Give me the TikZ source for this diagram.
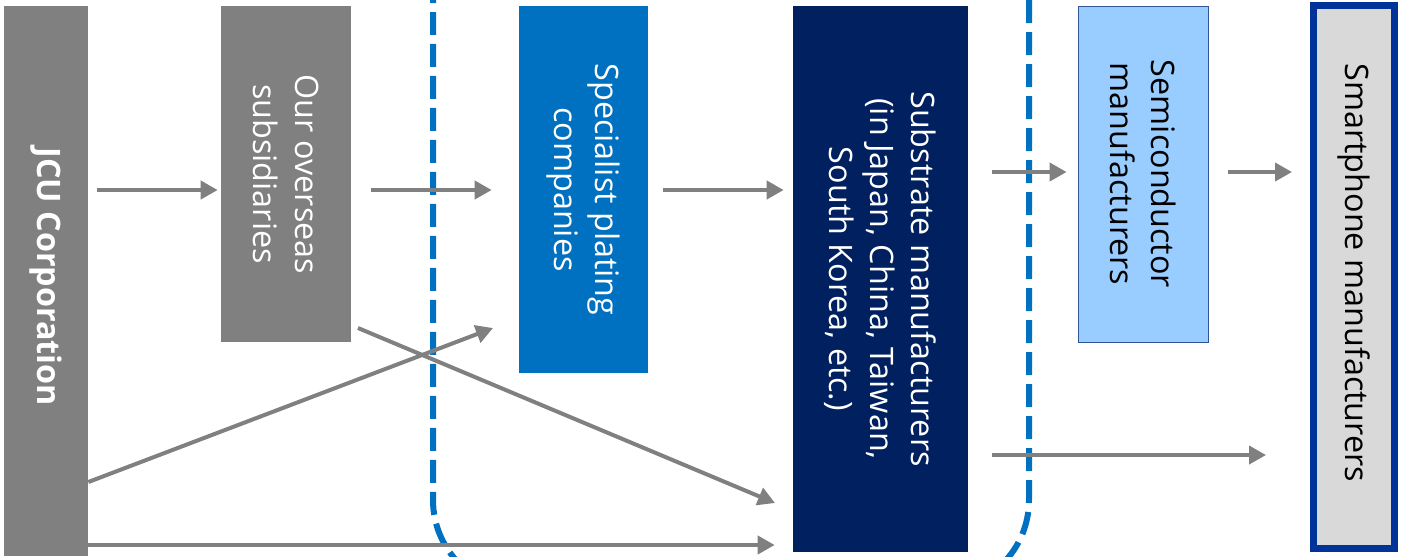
\documentclass[tikz,border=0pt]{standalone}
\usepackage{fontspec}
\setmainfont{Open Sans}
\usepackage{tikz}
\usetikzlibrary{arrows.meta, positioning}

\definecolor{jcugray}{HTML}{808080}
\definecolor{platblue}{HTML}{0070C0}
\definecolor{subnavy}{HTML}{002060}
\definecolor{semiblue}{HTML}{99CCFF}
\definecolor{semiline}{HTML}{2F5597}
\definecolor{smartfill}{HTML}{D9D9D9}
\definecolor{smartline}{HTML}{003399}

\begin{document}
\begin{tikzpicture}[x=0.02cm, y=-0.02cm,
            box/.style={rectangle, rotate=-90, align=center, inner sep=0pt, font=\fontsize{18.4}{23.5}\selectfont},
            flow/.style={draw=jcugray, line width=0.08cm, -{Triangle[length=0.34cm, width=0.36cm]}},
            border/.style={draw=platblue, line width=0.12cm, dash pattern=on 0.46cm off 0.18cm}]

            \useasboundingbox (0,0) rectangle (1402,556);

            % boxes are turned, so minimum width runs down the page
            \node[box, fill=jcugray, text=white, minimum width=11cm, minimum height=1.68cm] (jcu) at (46,281) {
                \textbf{JCU Corporation}
            };
            \node[box, fill=jcugray, text=white, minimum width=6.72cm, minimum height=2.6cm] (subs) at (286,174) {
                Our overseas\\
                subsidiaries
            };
            \node[box, fill=platblue, text=white, minimum width=7.34cm, minimum height=2.58cm] (plating) at (583.5,189.5) {
                Specialist plating\\
                companies
            };
            \node[box, fill=subnavy, text=white, minimum width=10.92cm, minimum height=3.5cm] (substrate) at (880.5,279) {
                Substrate manufacturers\\
                (in Japan, China, Taiwan,\\
                South Korea, etc.)
            };
            \node[box, fill=semiblue, draw=semiline, line width=0.5pt, minimum width=6.72cm, minimum height=2.6cm] (semi) at (1143,174) {
                Semiconductor\\
                manufacturers
            };
            \node[box, fill=smartfill, draw=smartline, line width=0.14cm, minimum width=10.86cm, minimum height=1.62cm] (smart) at (1354,277) {
                Smartphone manufacturers
            };

            % dashed bounds
            \draw[border, rounded corners=1.8cm] (433,-20) -- (433,590) -- (1029,590) -- (1029,-20);

            \coordinate (platin) at (493,328);
            \coordinate (subsout) at (358,328);
            \coordinate (subin) at (775,503);

            \draw[flow, shorten <=0.18cm, shorten >=0.06cm] (jcu.north |- 0,190) -- (subs.south |- 0,190);
            \draw[flow, shorten <=0.4cm, shorten >=0.54cm] (subs.north |- 0,190) -- (plating.south |- 0,190);
            \draw[flow, shorten <=0.3cm, shorten >=0.18cm] (plating.north |- 0,190) -- (substrate.south |- 0,190);
            \draw[flow, shorten <=0.48cm, shorten >=0.22cm] (substrate.north |- 0,172) -- (semi.south |- 0,172);
            \draw[flow, shorten <=0.4cm, shorten >=0.36cm] (semi.north |- 0,172) -- (smart.south |- 0,172);
            \draw[flow] (jcu.north |- 0,482) -- (platin);
            \draw[flow] (subsout) -- (subin);
            \draw[flow, shorten <=0.48cm, shorten >=0.88cm] (substrate.north |- 0,455) -- (smart.south |- 0,455);
            \draw[flow, shorten >=0.36cm] (jcu.north |- 0,545) -- (substrate.south |- 0,545);
        \end{tikzpicture}
\end{document}
